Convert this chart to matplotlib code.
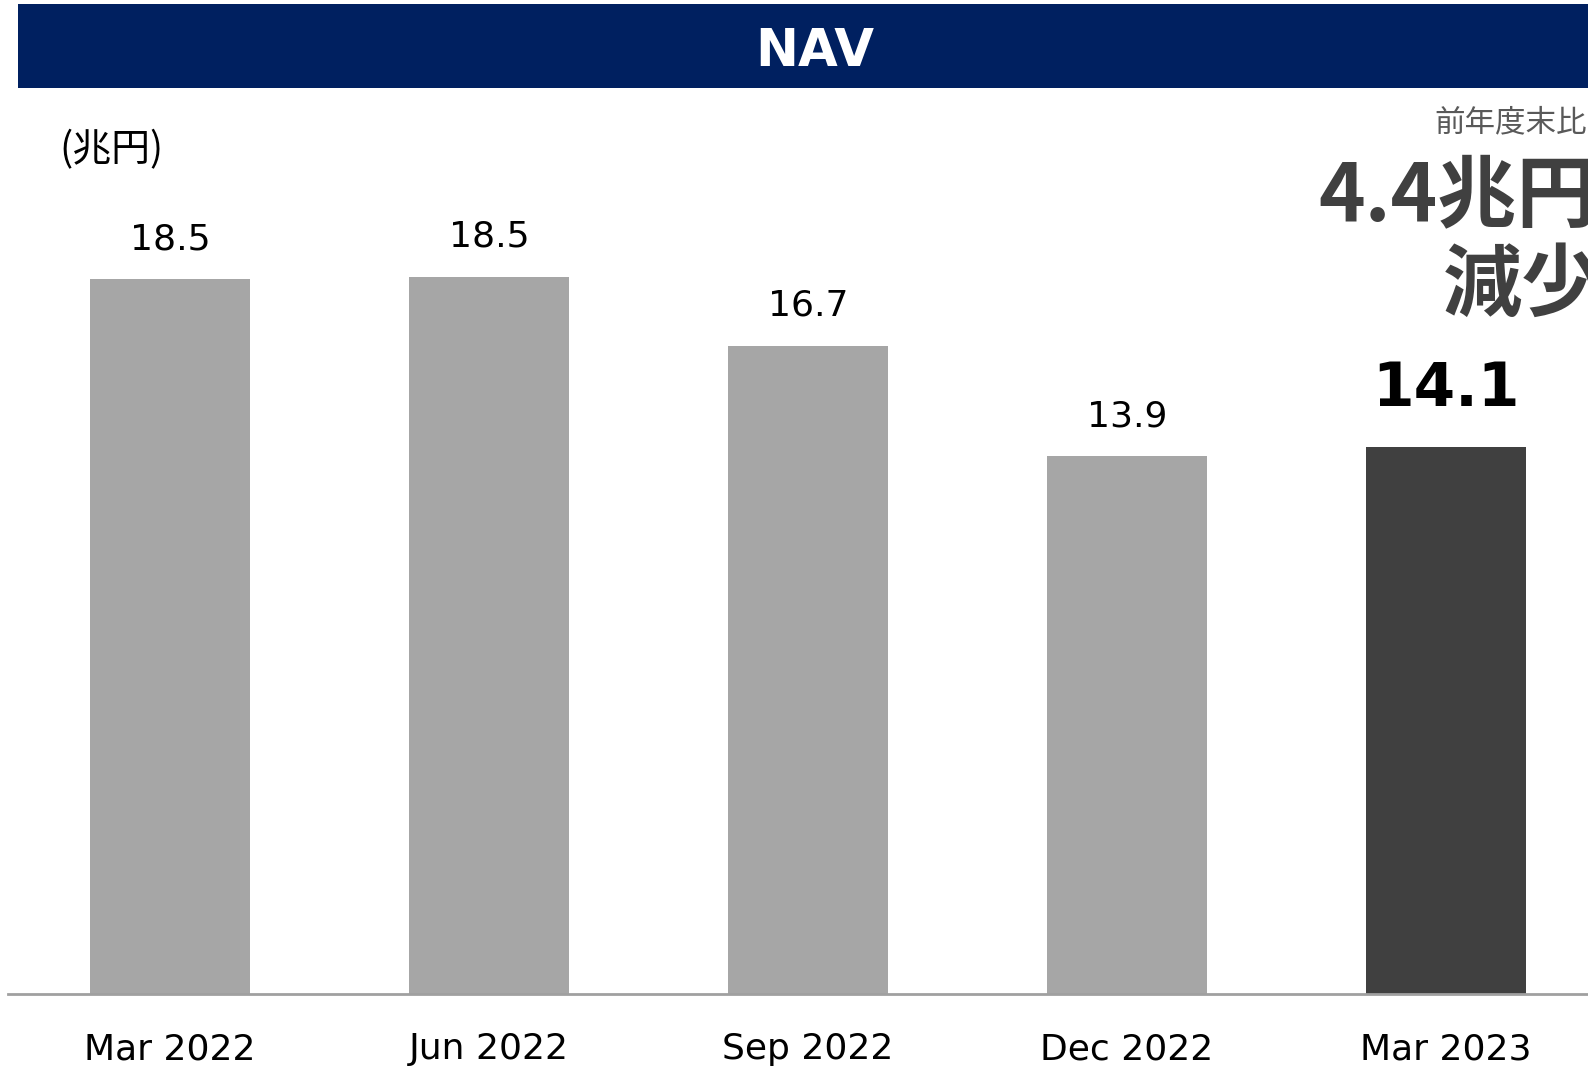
import matplotlib
matplotlib.use("Agg")
import matplotlib.pyplot as plt
from matplotlib.patches import Rectangle

categories = ["Mar 2022", "Jun 2022", "Sep 2022", "Dec 2022", "Mar 2023"]
values = [18.47, 18.53, 16.75, 13.9, 14.15]
labels = ["18.5", "18.5", "16.7", "13.9", "14.1"]
title = "NAV"
unit = "(兆円)"
note_small = "前年度末比"
note_big1 = "4.4兆円"
note_big2 = "減少"

W, H = 1588, 1068
plt.rcParams['font.family'] = ['DejaVu Sans', 'Noto Sans CJK JP']
fig = plt.figure(figsize=(W / 100, H / 100), dpi=100)

def fx(x):
    return x / W

def fy(y):
    return 1 - y / H

# header band
fig.patches.append(Rectangle((fx(18), fy(88)), fx(W - 18), (88 - 4) / H,
                             transform=fig.transFigure, facecolor="#002060",
                             edgecolor="none", zorder=0))
fig.text(fx(815), fy(52), title, color="white", fontsize=37, fontweight="bold",
         ha="center", va="center")

ax = fig.add_axes([fx(8), fy(994), 1 - fx(8), (994 - 100) / H])
colors = ["#A6A6A6"] * 4 + ["#404040"]
x = list(range(len(categories)))
ax.bar(x, values, width=0.5, color=colors, zorder=2)
ax.set_xlim(-0.508, 4.445)
ax.set_ylim(0, 23.11)
for s in ["top", "right", "left"]:
    ax.spines[s].set_visible(False)
ax.spines["bottom"].set_color("#A0A0A0")
ax.spines["bottom"].set_linewidth(2)
ax.set_yticks([])
ax.set_xticks(x)
ax.set_xticklabels(categories, fontsize=26, color="black")
ax.tick_params(axis="x", length=0, pad=27.5)

for i, (v, lab) in enumerate(zip(values, labels)):
    if i == len(values) - 1:
        ax.annotate(lab, (i, v), xytext=(0, 41), textcoords="offset points",
                    ha="center", va="center", fontsize=43, fontweight="bold",
                    color="black")
    else:
        ax.annotate(lab, (i, v), xytext=(0, 29), textcoords="offset points",
                    ha="center", va="center", fontsize=26, color="black")

cjk = ['Noto Sans CJK JP', 'DejaVu Sans']
fig.text(fx(59), fy(150), unit, fontsize=28, family=cjk, ha="left", va="center",
         color="black")
fig.text(fx(1434), fy(123), note_small, fontsize=22, family=cjk, ha="left",
         va="center", color="#595959")
fig.text(fx(1318), fy(197), note_big1, fontsize=57, family=cjk, fontweight="bold",
         ha="left", va="center", color="#404040")
fig.text(fx(1443), fy(286), note_big2, fontsize=57, family=cjk, fontweight="bold",
         ha="left", va="center", color="#404040")

fig.savefig("out.png", dpi=100)
